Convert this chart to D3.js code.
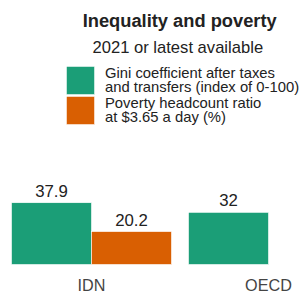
<!DOCTYPE html>
<html lang="en">
<head>
  <meta charset="UTF-8">
  <title>Inequality and poverty</title>
  <script src="https://d3js.org/d3.v7.min.js"></script>
  <style>
    body { margin: 0; background: #fff; }
    svg text { font-family: "Liberation Sans", Arial, sans-serif; }
  </style>
</head>
<body>
  <svg id="chart" width="304" height="292"></svg>
  <script>
    // data
    const groups = ["IDN", "OECD"];
    const seriesKeys = ["gini", "poverty"];
    const giniValues = [37.9, 32];
    const povertyValues = [20.2, null];
    const legendLabels = [
      ["Gini coefficient after taxes", "and transfers (index of 0-100)"],
      ["Poverty headcount ratio", "at $3.65 a day (%)"]
    ];
    const colors = ["#1b9e77", "#d95f02"];

    const svg = d3.select("svg#chart");

    const rows = [];
    groups.forEach((g, i) => {
      if (giniValues[i] != null) rows.push({group: g, key: "gini", value: giniValues[i]});
      if (povertyValues[i] != null) rows.push({group: g, key: "poverty", value: povertyValues[i]});
    });

    const x0 = d3.scaleBand()
                 .domain(groups)
                 .range([11.5, 348.5])
                 .paddingInner(17 / 177)
                 .paddingOuter(0);
    const x1 = d3.scaleBand()
                 .domain(seriesKeys)
                 .range([0, x0.bandwidth()]);
    const y = d3.scaleLinear()
                .domain([0, 40])
                .range([264.5, 199.3]);
    const color = d3.scaleOrdinal().domain(seriesKeys).range(colors);

    // title
    svg.append("text")
       .attr("x", 179.7).attr("y", 26.7)
       .attr("text-anchor", "middle")
       .style("font-size", "18.3px").style("font-weight", "bold")
       .attr("fill", "#222")
       .text("Inequality and poverty");
    svg.append("text")
       .attr("x", 177.8).attr("y", 52.7)
       .attr("text-anchor", "middle")
       .style("font-size", "16.6px")
       .attr("fill", "#222")
       .text("2021 or latest available");

    // legend
    const legend = svg.append("g").attr("transform", "translate(66.5,66.5)");
    seriesKeys.forEach((k, i) => {
      legend.append("rect")
            .attr("x", 0).attr("y", i * 30)
            .attr("width", 28).attr("height", 28)
            .attr("fill", color(k))
            .attr("stroke", "#fff").attr("stroke-width", 0.5);
      legendLabels[i].forEach((line, j) => {
        legend.append("text")
              .attr("x", 38.5).attr("y", 11.8 + i * 29.7 + j * 14)
              .style("font-size", "14.8px")
              .attr("fill", "#222")
              .text(line);
      });
    });

    // bars
    const plot = svg.append("g");
    plot.selectAll("rect.bar")
        .data(rows)
        .join("rect")
        .attr("class", "bar")
        .attr("x", d => x0(d.group) + x1(d.key))
        .attr("y", d => y(d.value))
        .attr("width", x1.bandwidth())
        .attr("height", d => y(0) - y(d.value))
        .attr("fill", d => color(d.key))
        .attr("stroke", "#fff").attr("stroke-width", 0.6);

    plot.selectAll("text.val")
        .data(rows)
        .join("text")
        .attr("class", "val")
        .attr("x", d => x0(d.group) + x1(d.key) + x1.bandwidth() / 2)
        .attr("y", d => y(d.value) - 6)
        .attr("text-anchor", "middle")
        .style("font-size", "16.8px")
        .attr("fill", "#222")
        .text(d => d.value);

    // group labels
    svg.selectAll("text.grp")
       .data(groups)
       .join("text")
       .attr("class", "grp")
       .attr("x", d => x0(d) + x0.bandwidth() / 2)
       .attr("y", 290.6)
       .attr("text-anchor", "middle")
       .style("font-size", "16.2px")
       .attr("fill", "#444")
       .text(d => d);
  </script>
</body>
</html>
